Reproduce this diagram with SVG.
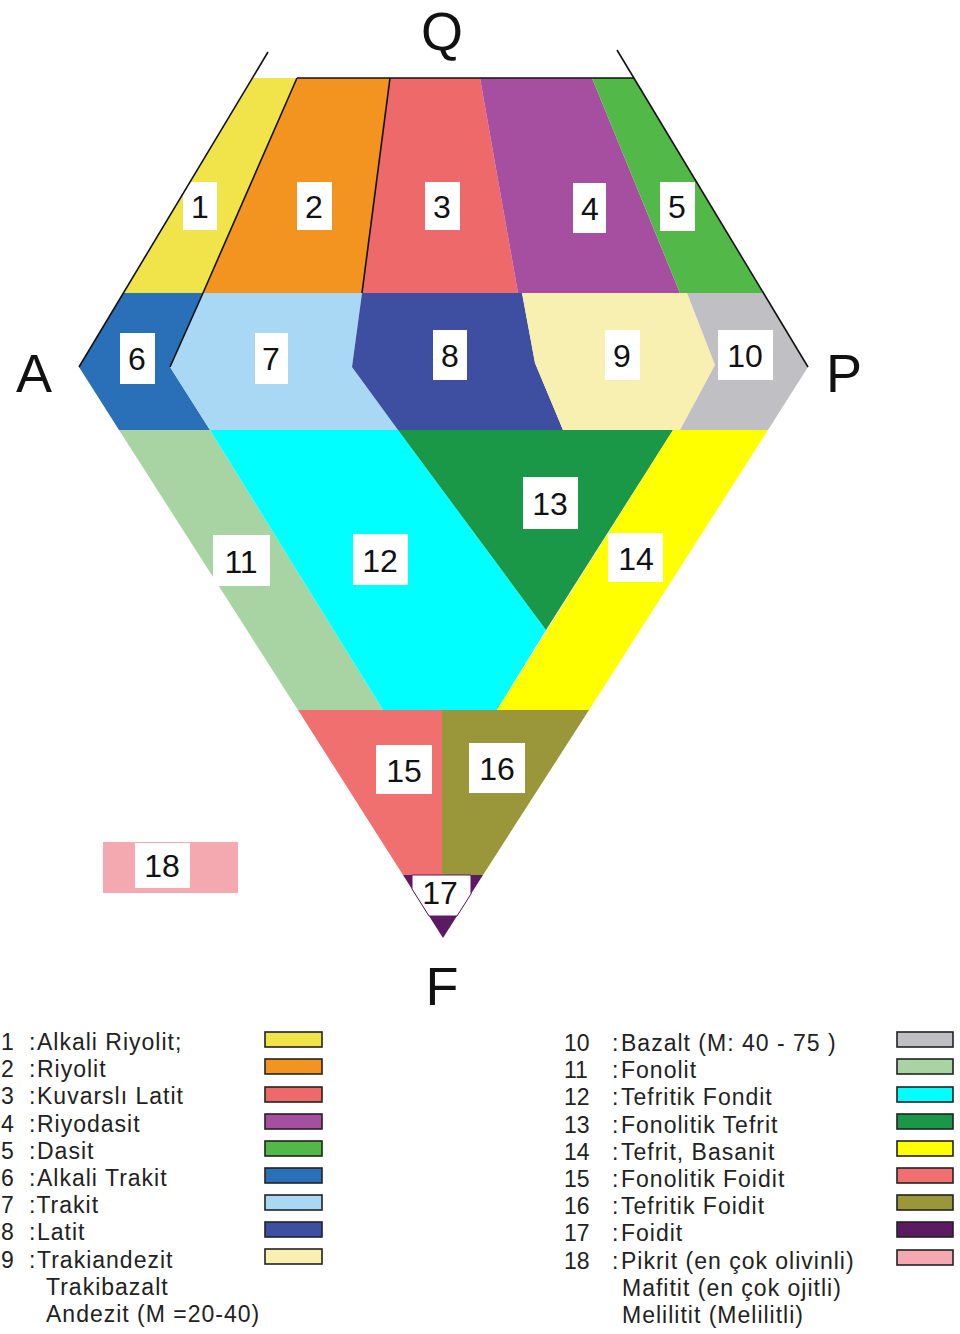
<svg xmlns="http://www.w3.org/2000/svg" width="960" height="1334" viewBox="0 0 960 1334">
<style>
.lbl{font-family:"Liberation Sans",Arial,sans-serif;font-size:32px;text-anchor:middle;fill:#111}
.box{fill:#ffffff}
.ax{font-family:"Liberation Sans",Arial,sans-serif;font-size:54px;text-anchor:middle;fill:#111}
.lg{font-family:"Liberation Sans",Arial,sans-serif;font-size:23px;fill:#222;letter-spacing:1px}
.num{font-family:"Liberation Sans",Arial,sans-serif;font-size:23px;fill:#222}
.sw{stroke:#222;stroke-width:1.6}
.edge{stroke:#111;stroke-width:1.6;fill:none}
</style>
<rect width="960" height="1334" fill="#ffffff"/>

<g id="region1"><polygon points="252,78 297,78 203,293 123,293" fill="#f0e44a"/><rect class="box" x="183" y="182" width="34" height="48"/><text class="lbl" x="200" y="218">1</text></g>
<g id="region2"><polygon points="297,78 390,78 362,293 203,293" fill="#f39420"/><rect class="box" x="297" y="182" width="35" height="48"/><text class="lbl" x="314" y="218">2</text></g>
<g id="region3"><polygon points="390,78 480,78 518,293 362,293" fill="#ee6a6a"/><rect class="box" x="425" y="182" width="35" height="48"/><text class="lbl" x="442" y="218">3</text></g>
<g id="region4"><polygon points="480,78 592,78 680,293 518,293" fill="#a64ea0"/><rect class="box" x="573" y="183" width="33" height="50"/><text class="lbl" x="590" y="220">4</text></g>
<g id="region5"><polygon points="592,78 634,78 763,293 680,293" fill="#52b848"/><rect class="box" x="660" y="182" width="35" height="49"/><text class="lbl" x="677" y="218">5</text></g>
<g id="region6"><polygon points="123,293 203,293 170,367 210,430 119,430 79,367" fill="#2a70b8"/><rect class="box" x="120" y="333" width="35" height="51"/><text class="lbl" x="137" y="370">6</text></g>
<g id="region7"><polygon points="203,293 362,293 352,367 398,430 210,430 170,367" fill="#a8d8f4"/><rect class="box" x="255" y="333" width="33" height="51"/><text class="lbl" x="271" y="370">7</text></g>
<g id="region8"><polygon points="362,293 522,293 535,363 563,430 398,430 352,367" fill="#3e4ea0"/><rect class="box" x="433" y="330" width="34" height="50"/><text class="lbl" x="450" y="367">8</text></g>
<g id="region9"><polygon points="522,293 687,293 715,365 680,430 563,430 535,363" fill="#f8f0b0"/><rect class="box" x="605" y="330" width="35" height="50"/><text class="lbl" x="622" y="367">9</text></g>
<g id="region10"><polygon points="687,293 763,293 808,367 768,430 680,430 715,365" fill="#c0c0c4"/><rect class="box" x="718" y="330" width="55" height="50"/><text class="lbl" x="745" y="367">10</text></g>
<g id="region11"><polygon points="119,430 210,430 383,710 298,710" fill="#a8d4a4"/><rect class="box" x="213" y="535" width="57" height="51"/><text class="lbl" x="241" y="573">11</text></g>
<g id="region12"><polygon points="210,430 398,430 546,630 497,710 383,710" fill="#00ffff"/><rect class="box" x="353" y="534" width="55" height="51"/><text class="lbl" x="380" y="572">12</text></g>
<g id="region13"><polygon points="398,430 673,430 546,630" fill="#1a9848"/><rect class="box" x="523" y="477" width="55" height="52"/><text class="lbl" x="550" y="515">13</text></g>
<g id="region14"><polygon points="673,430 768,430 589,710 497,710" fill="#ffff00"/><rect class="box" x="608" y="533" width="55" height="49"/><text class="lbl" x="636" y="570">14</text></g>
<g id="region15"><polygon points="298,710 442,710 442,875 403,875" fill="#f07070"/><rect class="box" x="376" y="745" width="56" height="49"/><text class="lbl" x="404" y="782">15</text></g>
<g id="region16"><polygon points="442,710 589,710 483,875 442,875" fill="#9a963a"/><rect class="box" x="469" y="743" width="56" height="50"/><text class="lbl" x="497" y="780">16</text></g>
<g id="region17"><polygon points="403,875 483,875 443,938" fill="#5c1a62"/><polygon points="412,875 471,875 471,894 457,916 429,916 412,889" fill="#ffffff" stroke="#5c1a62" stroke-width="1"/><text class="lbl" x="440" y="904">17</text></g>
<g id="region18"><rect x="103" y="842" width="135" height="51" fill="#f4a8b0"/><rect class="box" x="135" y="843" width="55" height="45"/><text class="lbl" x="162" y="877">18</text></g>

<g id="connectors">
<line class="edge" x1="268" y1="52" x2="79" y2="367"/>
<line class="edge" x1="617" y1="50" x2="808" y2="367"/>
<line class="edge" x1="297" y1="78" x2="634" y2="78"/>
<polyline class="edge" points="297,78 203,293 170,367"/>
<line class="edge" x1="390" y1="78" x2="362" y2="293"/>
</g>

<g id="axes">
<text class="ax" x="442" y="50">Q</text>
<text class="ax" x="34" y="392">A</text>
<text class="ax" x="844" y="392">P</text>
<text class="ax" x="442" y="1005">F</text>
</g>

<g id="legend-left">
<text class="num" x="1" y="1050">1</text><text class="num" x="29" y="1050">:</text><text class="lg" x="37" y="1050">Alkali Riyolit;</text><rect class="sw" x="265" y="1032" width="57" height="15" fill="#f0e44a"/>
<text class="num" x="1" y="1077">2</text><text class="num" x="29" y="1077">:</text><text class="lg" x="37" y="1077">Riyolit</text><rect class="sw" x="265" y="1059" width="57" height="15" fill="#f39420"/>
<text class="num" x="1" y="1104">3</text><text class="num" x="29" y="1104">:</text><text class="lg" x="37" y="1104">Kuvarslı Latit</text><rect class="sw" x="265" y="1087" width="57" height="15" fill="#ee6a6a"/>
<text class="num" x="1" y="1132">4</text><text class="num" x="29" y="1132">:</text><text class="lg" x="37" y="1132">Riyodasit</text><rect class="sw" x="265" y="1114" width="57" height="15" fill="#a64ea0"/>
<text class="num" x="1" y="1159">5</text><text class="num" x="29" y="1159">:</text><text class="lg" x="37" y="1159">Dasit</text><rect class="sw" x="265" y="1141" width="57" height="15" fill="#52b848"/>
<text class="num" x="1" y="1186">6</text><text class="num" x="29" y="1186">:</text><text class="lg" x="37" y="1186">Alkali Trakit</text><rect class="sw" x="265" y="1168" width="57" height="15" fill="#2a70b8"/>
<text class="num" x="1" y="1213">7</text><text class="lg" x="29" y="1213">:Trakit</text><rect class="sw" x="265" y="1195" width="57" height="15" fill="#a8d8f4"/>
<text class="num" x="1" y="1240">8</text><text class="num" x="29" y="1240">:</text><text class="lg" x="37" y="1240">Latit</text><rect class="sw" x="265" y="1222" width="57" height="15" fill="#3e4ea0"/>
<text class="num" x="1" y="1268">9</text><text class="num" x="29" y="1268">:</text><text class="lg" x="37" y="1268">Trakiandezit</text><rect class="sw" x="265" y="1249" width="57" height="15" fill="#f8f0b0"/>
<text class="lg" x="46" y="1295">Trakibazalt</text>
<text class="lg" x="46" y="1322">Andezit (M =20-40)</text>
</g>

<g id="legend-right">
<text class="num" x="564" y="1051">10</text><text class="num" x="612" y="1051">:</text><text class="lg" x="621" y="1051">Bazalt (M: 40 - 75 )</text><rect class="sw" x="897" y="1032" width="56" height="15" fill="#c0c0c4"/>
<text class="num" x="564" y="1078">11</text><text class="num" x="612" y="1078">:</text><text class="lg" x="621" y="1078">Fonolit</text><rect class="sw" x="897" y="1059" width="56" height="15" fill="#a8d4a4"/>
<text class="num" x="564" y="1105">12</text><text class="num" x="612" y="1105">:</text><text class="lg" x="621" y="1105">Tefritik Fondit</text><rect class="sw" x="897" y="1087" width="56" height="15" fill="#00ffff"/>
<text class="num" x="564" y="1133">13</text><text class="num" x="612" y="1133">:</text><text class="lg" x="621" y="1133">Fonolitik Tefrit</text><rect class="sw" x="897" y="1114" width="56" height="15" fill="#1a9848"/>
<text class="num" x="564" y="1160">14</text><text class="num" x="612" y="1160">:</text><text class="lg" x="621" y="1160">Tefrit, Basanit</text><rect class="sw" x="897" y="1141" width="56" height="15" fill="#ffff00"/>
<text class="num" x="564" y="1187">15</text><text class="num" x="612" y="1187">:</text><text class="lg" x="621" y="1187">Fonolitik Foidit</text><rect class="sw" x="897" y="1168" width="56" height="15" fill="#f07070"/>
<text class="num" x="564" y="1214">16</text><text class="num" x="612" y="1214">:</text><text class="lg" x="621" y="1214">Tefritik Foidit</text><rect class="sw" x="897" y="1195" width="56" height="15" fill="#9a963a"/>
<text class="num" x="564" y="1241">17</text><text class="num" x="612" y="1241">:</text><text class="lg" x="621" y="1241">Foidit</text><rect class="sw" x="897" y="1222" width="56" height="15" fill="#5c1a62"/>
<text class="num" x="564" y="1269">18</text><text class="num" x="612" y="1269">:</text><text class="lg" x="621" y="1269">Pikrit (en çok olivinli)</text><rect class="sw" x="897" y="1250" width="56" height="15" fill="#f4a8b0"/>
<text class="lg" x="622" y="1296">Mafitit (en çok ojitli)</text>
<text class="lg" x="622" y="1323">Melilitit (Melilitli)</text>
</g>
</svg>
